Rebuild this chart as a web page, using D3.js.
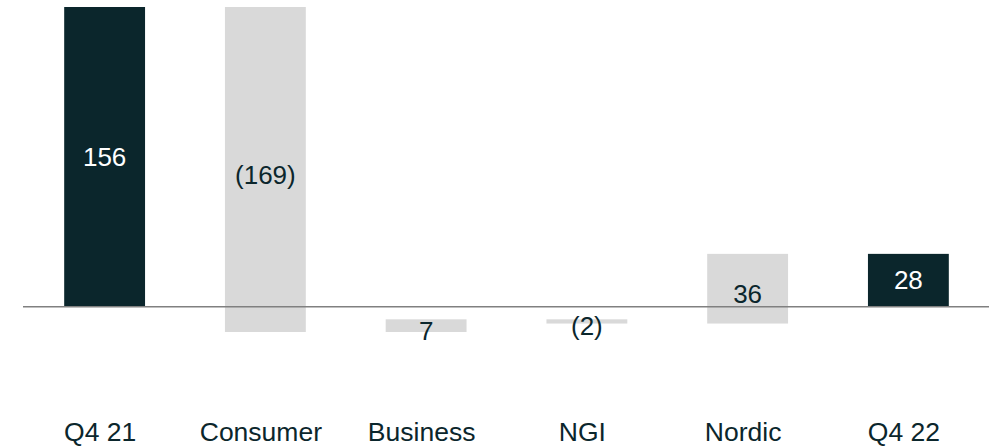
<!DOCTYPE html>
<html><head><meta charset="utf-8">
<script src="https://cdn.jsdelivr.net/npm/d3@7"></script>
<style>html,body{margin:0;padding:0;background:#fff;}svg{display:block;}</style>
</head><body>
<svg id="chart" width="989" height="447"></svg>
<script>
const categories = ["Q4 21", "Consumer", "Business", "NGI", "Nordic", "Q4 22"];
const kinds = ["total", "delta", "delta", "delta", "delta", "total"];
const values = [156.2, -169.3, 6.6, -2.2, 36.3, 27.6];
const labels = ["156", "(169)", "7", "(2)", "36", "28"];

const W = 989, H = 447;
const svg = d3.select("#chart");
const x = d3.scaleBand().domain(categories).range([24, 989]).paddingInner(0.497).paddingOuter(0.25);
const y = d3.scaleLinear().domain([-13.1, 156.2]).range([332, 7]);

let run = 0;
const bars = categories.map((c, i) => {
  let y0, y1;
  if (kinds[i] === "total") { y0 = 0; y1 = values[i]; run = values[i]; }
  else { y0 = run; y1 = run + values[i]; run = y1; }
  return {c, kind: kinds[i], lo: Math.min(y0, y1), hi: Math.max(y0, y1), label: labels[i]};
});

const dark = "#0b262c", grey = "#d9d9d9";
const font = "Liberation Sans, Arial, sans-serif";

svg.selectAll("rect.bar").data(bars).enter().append("rect")
  .attr("x", d => x(d.c)).attr("width", x.bandwidth())
  .attr("y", d => y(d.hi)).attr("height", d => Math.max(1, y(d.lo) - y(d.hi)))
  .attr("fill", d => d.kind === "total" ? dark : grey);

svg.append("line").attr("x1", 23).attr("x2", W).attr("y1", y(0)).attr("y2", y(0))
  .attr("stroke", "#808080").attr("stroke-width", 1.5);

svg.selectAll("text.val").data(bars).enter().append("text")
  .attr("x", d => x(d.c) + x.bandwidth() / 2)
  .attr("y", d => (y(d.lo) + y(d.hi)) / 2 + (d.kind === "total" ? 0 : 5))
  .attr("text-anchor", "middle").attr("dominant-baseline", "central")
  .attr("font-family", font).attr("font-size", 26)
  .attr("fill", d => d.kind === "total" ? "#ffffff" : dark)
  .text(d => d.label);

const xAxis = d3.axisBottom(x).tickSize(0).tickPadding(0);
const g = svg.append("g").attr("transform", `translate(-4.5,441)`).call(xAxis);
g.select(".domain").remove();
g.selectAll("text").attr("font-family", font)
  .attr("font-size", 26.5).attr("fill", dark).attr("y", 0).attr("dy", "0");
</script>
</body></html>
